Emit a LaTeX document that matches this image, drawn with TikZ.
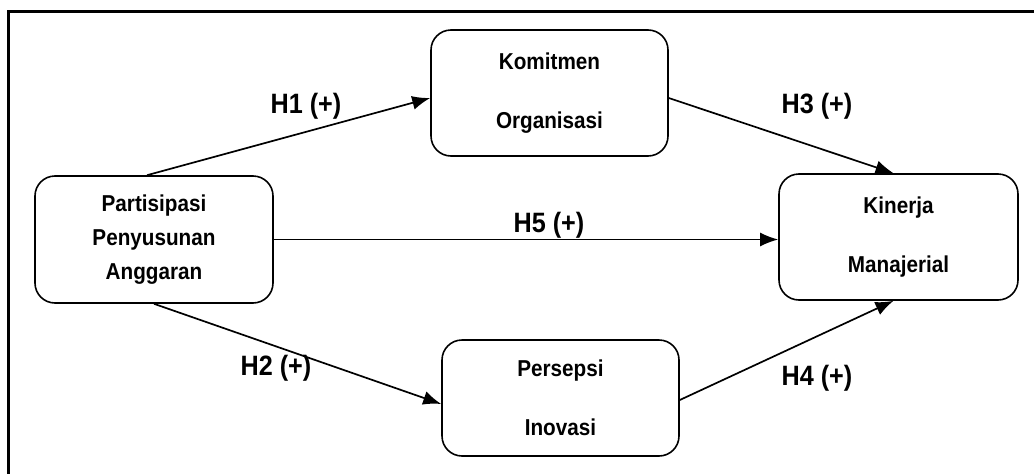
\documentclass[tikz,border=0pt]{standalone}
\usepackage{fontspec}
\setmainfont{Liberation Sans}[FakeStretch=0.9]
\usetikzlibrary{arrows.meta, positioning}
\tikzset{
    >={Latex[length=18pt,width=14pt]}, % filled triangle heads
    var/.style={draw, line width=1.6pt, rounded corners=20pt, align=center, font=\bfseries\fontsize{23}{59}\selectfont}, % sets the properties for each variable box
    hyp/.style={font=\bfseries\fontsize{28}{30}\selectfont}, % hypothesis labels
    link/.style={->, line width=1.7pt}, % arrows between boxes
}

\begin{document}
\begin{tikzpicture}[x=1pt, y=-1pt]

        \useasboundingbox (0,0) rectangle (1034,474);

        % frame
        \draw[line width=3pt] (8,474) -- (8,11) -- (1034,11);

        % Nodes
        \node[var, minimum width=238pt, minimum height=127pt, font=\bfseries\fontsize{23}{34}\selectfont] (part) at (154,239.5) {Partisipasi\\Penyusunan\\Anggaran};
        \node[var, minimum width=237pt, minimum height=126pt] (kom) at (549.5,93) {Komitmen\\Organisasi};
        \node[var, minimum width=237pt, minimum height=116pt] (per) at (560.5,398) {Persepsi\\Inovasi};
        \node[var, minimum width=239pt, minimum height=126pt] (kin) at (898.5,237) {Kinerja\\Manajerial};

        % labels
        \node[hyp] (h1) at (306,106) {H1 (+)};
        \node[hyp] (h2) at (276,368) {H2 (+)};
        \node[hyp] (h3) at (817,106) {H3 (+)};
        \node[hyp] (h4) at (817,378) {H4 (+)};
        \node[hyp] (h5) at (549,225) {H5 (+)};

        % edges
        \draw[link] ([xshift=-7pt]part.north) -- ([yshift=-5pt]kom.west);
        \draw[link] (part.south) -- ([yshift=-6pt]per.west);
        \draw[link] (part.east) -- (part.east -| kin.west);
        \draw[link] ([yshift=-5pt]kom.east) -- ([xshift=-5pt]kin.north);
        \draw[link] ([yshift=-2pt]per.east) -- ([xshift=-5pt]kin.south);
    \end{tikzpicture}
\end{document}
